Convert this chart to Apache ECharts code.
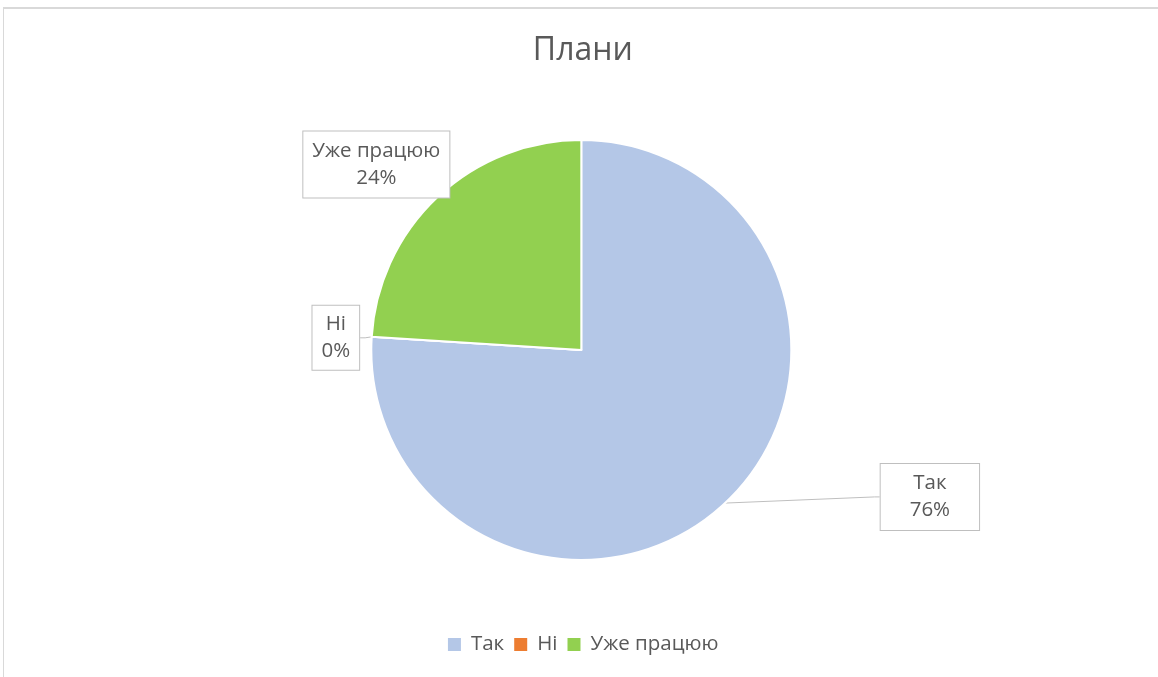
<!DOCTYPE html>
<html>
<head>
<meta charset="utf-8">
<script src="https://cdn.jsdelivr.net/npm/echarts@6/dist/echarts.min.js"></script>
<style>
html,body{margin:0;padding:0;background:#fff;overflow:hidden;}
#frame{position:absolute;left:3px;top:7px;width:1200px;height:700px;border-left:1px solid #d9d9d9;border-top:2px solid #d9d9d9;box-sizing:border-box;}
#chart{position:absolute;left:0;top:0;width:1158px;height:677px;}
</style>
</head>
<body>
<div id="frame"></div>
<div id="chart"></div>
<script>
const titleText = 'Плани';
const categories = ['Так', 'Ні', 'Уже працюю'];
const values = [76, 0, 24];
const colors = ['#B4C7E7', '#ED7D31', '#92D050'];

// label box centres as fractions of chart width/height
const labelPos = [[0.803, 0.734], [0.290, 0.499], [0.325, 0.243]];
const labelPadding = [[6, 29], [5, 9], [6, 9]];

const chart = echarts.init(document.getElementById('chart'), null, {renderer: 'canvas'});
const W = 1158, H = 677;

const data = categories.map((c, i) => ({
  name: c,
  value: values[i],
  itemStyle: {color: colors[i]},
  label: {padding: labelPadding[i]},
  labelLine: {show: i !== 2}
}));

chart.setOption({
  animation: false,
  title: {
    text: titleText,
    left: '49.9%',
    textAlign: 'center',
    top: 30,
    textStyle: {fontFamily: 'Open Sans', fontSize: 32, fontWeight: 'normal', color: '#595959'}
  },
  legend: {
    data: categories,
    bottom: 17,
    left: '38.25%',
    itemWidth: 13,
    itemHeight: 13,
    itemGap: 10,
    icon: 'rect',
    itemStyle: {borderWidth: 0, borderColor: 'transparent'},
    textStyle: {fontFamily: 'Open Sans', fontSize: 20.5, color: '#595959', padding: [0, 0, 0, 5]}
  },
  series: [{
    type: 'pie',
    center: ['50.2%', '51.7%'],
    radius: 210,
    startAngle: 90,
    clockwise: true,
    avoidLabelOverlap: false,
    stillShowZeroSum: true,
    itemStyle: {borderColor: '#fff', borderWidth: 2},
    label: {
      show: true,
      position: 'outside',
      formatter: '{b}\n{d}%',
      fontFamily: 'Open Sans',
      fontSize: 20.5,
      lineHeight: 27,
      color: '#595959',
      align: 'center',
      backgroundColor: '#fff',
      borderColor: '#bfbfbf',
      borderWidth: 1
    },
    percentPrecision: 0,
    labelLine: {show: true, length: 5, length2: 5, smooth: false, lineStyle: {color: '#bfbfbf', width: 1}},
    labelLayout: function (p) {
      const pos = labelPos[p.dataIndex];
      return {x: pos[0] * W, y: pos[1] * H, align: 'center', verticalAlign: 'middle'};
    },
    emphasis: {disabled: true},
    data: data
  }]
});
</script>
</body>
</html>
